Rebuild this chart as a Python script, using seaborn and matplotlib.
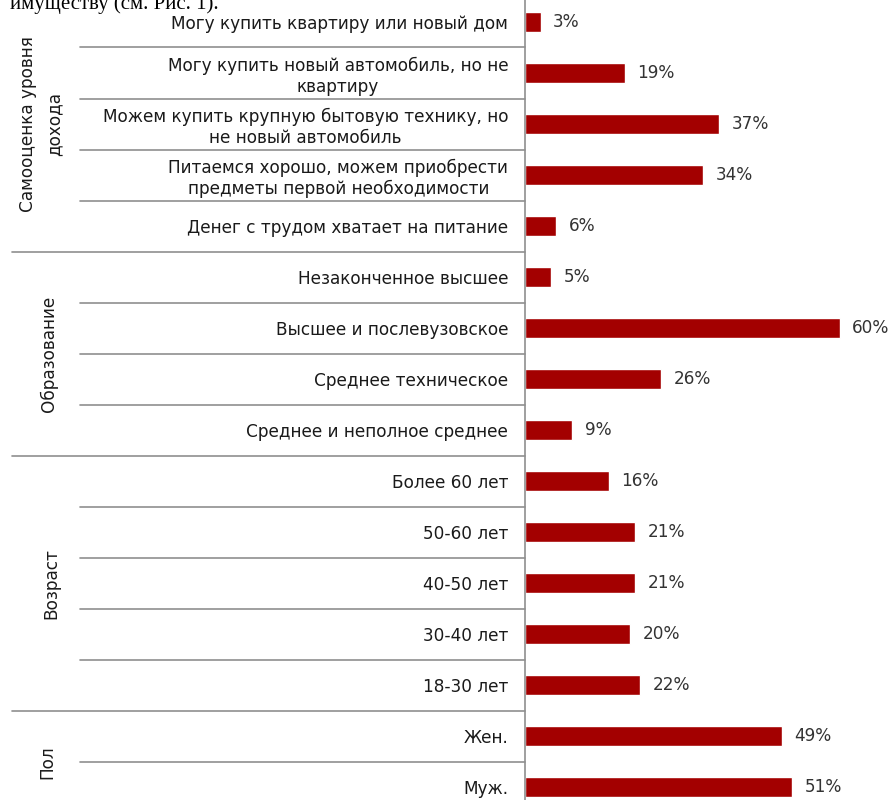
import matplotlib
matplotlib.use("Agg")
import matplotlib.pyplot as plt
import matplotlib.transforms as mtransforms
import seaborn as sns
import pandas as pd

# Survey breakdown: respondent categories and their shares (%)
categories = [
    "Могу купить квартиру или новый дом",
    "Могу купить новый автомобиль, но не\nквартиру",
    "Можем купить крупную бытовую технику, но\nне новый автомобиль",
    "Питаемся хорошо, можем приобрести\nпредметы первой необходимости",
    "Денег с трудом хватает на питание",
    "Незаконченное высшее",
    "Высшее и послевузовское",
    "Среднее техническое",
    "Среднее и неполное среднее",
    "Более 60 лет",
    "50-60 лет",
    "40-50 лет",
    "30-40 лет",
    "18-30 лет",
    "Жен.",
    "Муж.",
]
values = [3, 19, 37, 34, 6, 5, 60, 26, 9, 16, 21, 21, 20, 22, 49, 51]

# Groups: label and number of rows they cover
group_names = ["Самооценка уровня\nдохода", "Образование", "Возраст", "Пол"]
group_sizes = [5, 4, 5, 2]

sns.set_theme(style="white")
plt.rcParams["font.family"] = ["DejaVu Sans"]

FS = 12.2
df = pd.DataFrame({"category": categories, "share": values})

W, H = 892, 800
fig = plt.figure(figsize=(W / 100, H / 100), dpi=100)
ax_left = 525 / W
ax = fig.add_axes([ax_left, 0.0, 1.0 - ax_left, 1.0])

bar_color = "#A30000"
sns.barplot(data=df, x="share", y="category", color=bar_color, width=0.4,
            saturation=1.0, ax=ax, orient="h")

ax.set_xlim(0, 70)
ax.set_ylim(15.25, -0.431)
ax.set_xlabel("")
ax.set_ylabel("")
ax.set_xticks([])

for s in ["top", "right", "bottom"]:
    ax.spines[s].set_visible(False)
ax.spines["left"].set_color("#8f8f8f")
ax.spines["left"].set_linewidth(1.2)

ax.tick_params(axis="y", length=0, pad=12, labelsize=FS, labelcolor="#1a1a1a")
for lbl in ax.get_yticklabels():
    lbl.set_multialignment("center")
    lbl.set_linespacing(1.2)

ax.bar_label(ax.containers[0], labels=[f"{v}%" for v in values],
             padding=9, fontsize=FS, color="#333333")

# Row separators: long ones between groups, short ones inside a group
trans = mtransforms.blended_transform_factory(fig.transFigure, ax.transData)
group_ends = []
acc = 0
for n in group_sizes:
    acc += n
    group_ends.append(acc - 1)
for i in range(len(categories) - 1):
    x0 = 12 / W if i in group_ends else 80 / W
    ax.plot([x0, ax_left], [i + 0.5, i + 0.5], transform=trans,
            color="#8f8f8f", lw=1.2, clip_on=False)

# Rotated group titles
group_x = [41 / W, 49 / W, 51 / W, 47 / W]
start = 0
for name, n, gx in zip(group_names, group_sizes, group_x):
    center = start + (n - 1) / 2
    ax.text(gx, center, name, transform=trans, rotation=90,
            ha="center", va="center", multialignment="center",
            fontsize=FS, color="#1a1a1a", linespacing=1.6)
    start += n

# Tail of the preceding paragraph of the page
fig.text(10 / W, 1 - 9 / H, "имуществу (см. Рис. 1).",
         family=["Liberation Serif", "DejaVu Serif"], fontsize=15,
         color="black", ha="left", va="baseline")

fig.savefig("out.png", dpi=100, facecolor="white")
